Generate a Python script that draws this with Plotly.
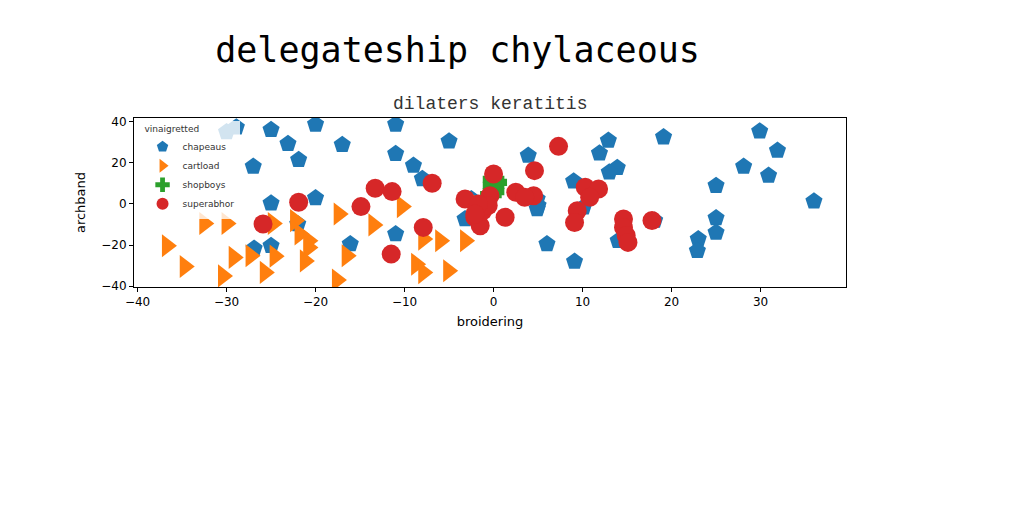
import plotly.graph_objects as go

# chapeaus (blue pentagons)
chapeaus_x = [-28.9, -25.0, -20.0, -11.0, -30.0, -23.1, -17.0, -5.0, -11.0, -27.0,
              -21.9, -9.0, -8.0, -25.0, -20.0, -3.2, -22.0, -11.0, -26.9, -25.0,
              -16.1, -2.5, 5.0, 3.9, 12.9, 11.9, 19.1, 29.9, 31.9, 28.1,
              30.9, 13.9, 13.0, 25.0, 9.0, 36.0, 4.9, 4.9, 10.1, 25.0,
              25.0, 23.0, 22.9, 14.0, 18.1, 6.0, 9.1]
chapeaus_y = [37.3, 36.1, 38.7, 38.7, 35.0, 29.3, 28.8, 30.5, 24.4, 18.2,
              21.5, 18.7, 12.2, 0.3, 2.9, -7.3, -9.8, -14.6, -21.7, -20.3,
              -19.5, 2.4, -0.8, 23.6, 30.9, 24.7, 32.5, 35.4, 26.0, 18.2,
              13.8, 17.6, 15.4, 8.9, 11.0, 1.3, 2.4, -2.4, -1.6, -6.8,
              -13.9, -17.1, -22.8, -17.9, -8.1, -19.5, -28.0]

# cartload (orange right triangles)
cartload_x = [-36.7, -34.7, -32.5, -30.0, -30.4, -29.2, -27.3, -25.7, -24.6, -24.8,
              -22.3, -21.8, -20.8, -20.8, -21.2, -17.4, -17.6, -13.5, -10.3, -8.7,
              -7.9, -7.9, -6.0, -5.1, -3.2, -16.5, -2.3]
cartload_y = [-20.3, -30.4, -9.5, -9.5, -35.0, -26.0, -25.2, -33.3, -25.4, -9.5,
              -8.1, -14.6, -17.9, -21.2, -27.7, -4.9, -37.0, -10.2, -1.3, -29.3,
              -33.4, -17.1, -17.9, -32.5, -17.9, -25.2, 0.8]

# shopboys (green plus)
shopboys_x = [0.0, 0.0, 0.0, -0.3, 0.3]
shopboys_y = [12.0, 9.0, 6.0, 4.5, 10.5]

# superabhor (red circles)
superabhor_x = [-25.9, -21.9, -14.9, -13.3, -11.4, -6.9, -7.9, -11.5, 0.0, -3.2,
                -0.4, -1.5, -2.1, -1.5, 1.3, -1.2, -0.6, -1.7, -2.1, 4.6,
                2.5, 4.5, 3.5, 7.3, 10.3, 11.8, 10.8, 9.4, 9.1, 14.6,
                14.6, 14.9, 15.1, 17.8]
superabhor_y = [-9.8, 0.8, -1.3, 7.6, 6.0, 10.1, -11.4, -24.4, 14.6, 2.4,
                4.0, -0.8, -6.5, -10.6, -6.5, -3.3, -0.8, 0.0, -4.9, 16.2,
                5.7, 4.0, 3.2, 28.0, 8.1, 7.3, 3.2, -3.3, -9.0, -7.3,
                -11.4, -15.3, -18.7, -8.1]

fig = go.Figure()
fig.add_trace(go.Scatter(x=chapeaus_x, y=chapeaus_y, mode="markers", name="chapeaus",
                         marker=dict(symbol="pentagon", size=18, color="#1f77b4")))
fig.add_trace(go.Scatter(x=cartload_x, y=cartload_y, mode="markers", name="cartload",
                         marker=dict(symbol="triangle-right", size=20, color="#ff7f0e")))
fig.add_trace(go.Scatter(x=shopboys_x, y=shopboys_y, mode="markers", name="shopboys",
                         marker=dict(symbol="cross", size=18, color="#2ca02c")))
fig.add_trace(go.Scatter(x=superabhor_x, y=superabhor_y, mode="markers", name="superabhor",
                         marker=dict(symbol="circle", size=19, color="#d62728")))

axis_style = dict(showgrid=False, zeroline=False, showline=True, linecolor="black",
                  linewidth=1, mirror=True, ticks="outside", ticklen=4, tickcolor="black",
                  tickfont=dict(family="DejaVu Sans", size=12, color="black"))

fig.update_xaxes(range=[-40.4, 39.6], tickvals=[-40, -30, -20, -10, 0, 10, 20, 30],
                 ticktext=["\u221240", "\u221230", "\u221220", "\u221210", "0", "10", "20", "30"],
                 title=dict(text="broidering", font=dict(family="DejaVu Sans", size=13, color="black"),
                            standoff=8),
                 **axis_style)
fig.update_yaxes(range=[-40.4, 41.8], tickvals=[-40, -20, 0, 20, 40],
                 ticktext=["\u221240", "\u221220", "0", "20", "40"],
                 title=dict(text="archband", font=dict(family="DejaVu Sans", size=13, color="black"),
                            standoff=12),
                 **axis_style)

fig.update_layout(
    width=1024, height=512,
    margin=dict(l=126, r=186, t=110, b=233),
    paper_bgcolor="white", plot_bgcolor="white",
    title=dict(text="delegateship chylaceous", x=0.439, xanchor="center", y=0.918, yanchor="middle",
               font=dict(family="DejaVu Sans Mono", size=35, color="black")),
    legend=dict(x=0.012, y=0.985, xanchor="left", yanchor="top",
                bgcolor="rgba(255,255,255,0.8)", itemsizing="constant",
                title=dict(text="vinaigretted", font=dict(family="DejaVu Sans", size=9, color="#333")),
                font=dict(family="DejaVu Sans", size=9, color="#333"),
                tracegroupgap=0),
    annotations=[dict(text="dilaters keratitis", xref="paper", yref="paper", x=0.5, y=1.0,
                      xanchor="center", yanchor="bottom", yshift=2, showarrow=False,
                      font=dict(family="Liberation Mono", size=18, color="#333"))],
)

fig.write_html("out.html")
